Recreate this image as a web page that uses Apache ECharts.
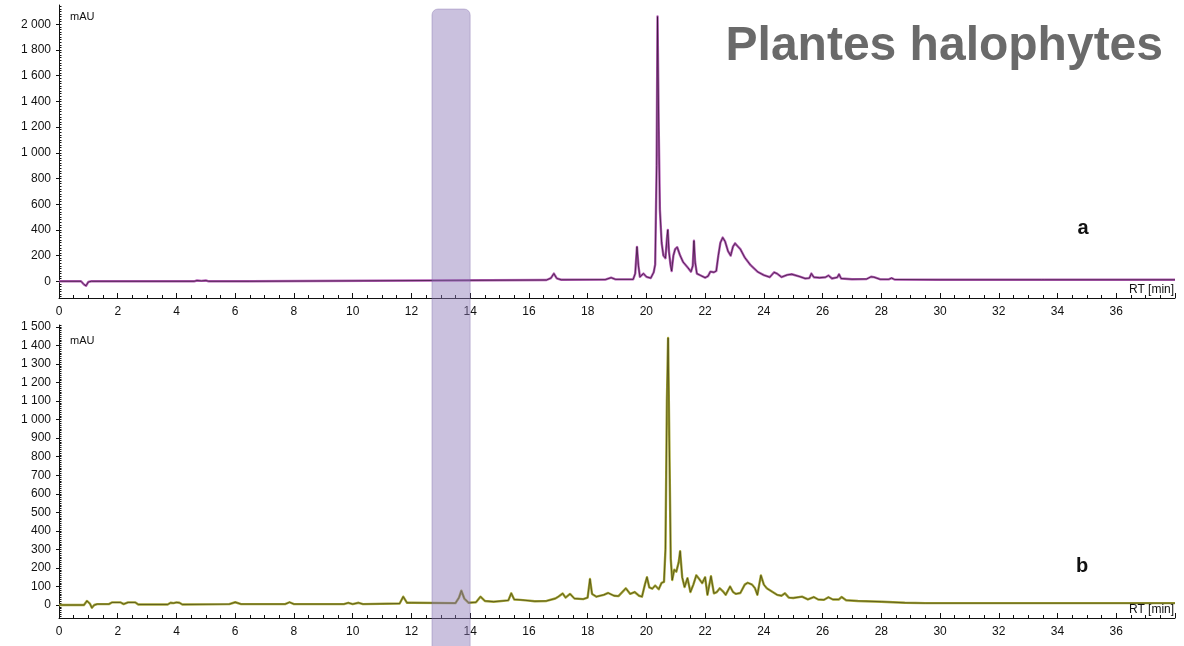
<!DOCTYPE html>
<html>
<head>
<meta charset="utf-8">
<script src="https://cdn.jsdelivr.net/npm/echarts@6/dist/echarts.min.js"></script>
<style>
  html, body { margin: 0; padding: 0; background: #ffffff; }
  #chart { width: 1184px; height: 646px; }
</style>
</head>
<body>
<div id="chart"></div>
<script>
// Chromatogram a: retention time (min) and absorbance (mAU)
const rtA = [0, 0.75, 0.85, 0.92, 1.0, 1.1, 4.6, 4.7, 4.85, 5.0, 5.1, 6.5, 6.55, 16.6, 16.75, 16.85, 16.95, 17.1,
  18.6, 18.8, 18.95, 19.55, 19.62, 19.68, 19.73, 19.78, 19.9, 20.0, 20.15, 20.25, 20.3, 20.35, 20.38, 20.42, 20.46,
  20.52, 20.58, 20.65, 20.7, 20.73, 20.77, 20.82, 20.86, 20.92, 20.98, 21.05, 21.15, 21.25, 21.4, 21.52, 21.58,
  21.62, 21.66, 21.72, 21.85, 22.0, 22.1, 22.18, 22.3, 22.38, 22.45, 22.52, 22.6, 22.68, 22.78, 22.87, 22.95,
  23.02, 23.1, 23.2, 23.35, 23.55, 23.8, 24.0, 24.2, 24.35, 24.45, 24.6, 24.8, 24.95, 25.2, 25.4, 25.55, 25.62,
  25.7, 25.9, 26.1, 26.2, 26.32, 26.5, 26.56, 26.63, 27.0, 27.5, 27.65, 27.75, 27.95, 28.25, 28.35, 28.45, 30,
  33.45, 33.5, 33.55, 38];
const mauA = [0, 0, -25, -35, -5, 0, 0, 6, 3, 6, 0, 0, 10, 10, 25, 60, 22, 12,
  13, 28, 15, 15, 60, 268, 120, 35, 60, 35, 25, 70, 130, 900, 2060, 1200, 560,
  300, 200, 180, 330, 400, 230, 130, 80, 200, 250, 265, 200, 150, 110, 75, 120,
  315, 150, 60, 45, 28, 40, 75, 70, 80, 200, 300, 340, 310, 235, 200, 270,
  295, 275, 250, 185, 125, 72, 48, 32, 70, 60, 33, 50, 55, 38, 22, 25, 60,
  32, 28, 32, 45, 22, 30, 55, 22, 16, 18, 35, 32, 16, 15, 25, 14, 12,
  12, 18, 12, 12];

// Chromatogram b
const rtB = [0, 0.85, 0.95, 1.05, 1.12, 1.2, 1.3, 1.7, 1.8, 2.1, 2.2, 2.35, 2.6, 2.7, 3.7, 3.8, 3.9, 4.0, 4.1, 4.2,
  5.8, 6.0, 6.2, 7.7, 7.85, 8.0, 9.7, 9.85, 10.0, 10.2, 10.35, 11.6, 11.72, 11.85, 12.0, 13.5, 13.62, 13.7, 13.8,
  13.95, 14.2, 14.35, 14.5, 14.8, 15.3, 15.4, 15.5, 15.7, 15.9, 16.2, 16.6, 16.9, 17.0, 17.15, 17.25, 17.4, 17.55,
  17.85, 18.0, 18.08, 18.15, 18.3, 18.55, 18.7, 18.9, 19.05, 19.3, 19.45, 19.6, 19.75, 19.85, 19.95, 20.02, 20.1,
  20.2, 20.3, 20.42, 20.52, 20.6, 20.65, 20.7, 20.74, 20.78, 20.83, 20.88, 20.95, 21.02, 21.1, 21.15, 21.22, 21.3,
  21.4, 21.5, 21.6, 21.7, 21.8, 21.9, 22.0, 22.08, 22.2, 22.3, 22.4, 22.5, 22.6, 22.7, 22.85, 22.95, 23.05, 23.2,
  23.35, 23.45, 23.6, 23.7, 23.78, 23.9, 24.0, 24.1, 24.3, 24.45, 24.6, 24.72, 24.85, 25.0, 25.3, 25.5, 25.7,
  25.85, 26.05, 26.2, 26.35, 26.55, 26.65, 26.8, 27.2, 28.0, 28.8, 29.5, 38];
const mauB = [0, 0, 22, 8, -15, 0, 5, 5, 14, 14, 5, 14, 14, 3, 3, 12, 10, 14, 12, 3,
  5, 15, 5, 5, 15, 5, 5, 12, 5, 12, 5, 8, 45, 12, 12, 10, 40, 77, 35,
  12, 15, 45, 22, 18, 25, 63, 30, 28, 25, 20, 22, 35, 45, 62, 40, 60, 35,
  32, 40, 140, 60, 45, 55, 65, 50, 48, 90, 60, 70, 50, 45, 110, 150, 95,
  88, 105, 85, 120, 125, 300, 1100, 1440, 900, 250, 135, 190, 180, 230, 290, 150, 97,
  145, 70, 110, 160, 140, 118, 150, 55, 155, 63, 70, 90, 75, 55, 100, 70, 60, 65,
  110, 120, 110, 90, 55, 160, 110, 90, 70, 55, 50, 63, 40, 38, 45, 30, 43,
  30, 28, 42, 30, 30, 43, 26, 22, 18, 12, 10, 10];

// Axis ranges and labelled ticks
const rtRange = [0, 38];
const rtStep = 2;
const yRangeA = [-130, 2150];
const yRangeB = [-70, 1510];
const yTicksA = [0, 200, 400, 600, 800, 1000, 1200, 1400, 1600, 1800, 2000];
const yTicksB = [0, 100, 200, 300, 400, 500, 600, 700, 800, 900, 1000, 1100, 1200, 1300, 1400, 1500];
const yMinorStepA = 20;
const yMinorStepB = 10;

// Highlighted retention-time window
const bandRT = [12.7, 14.0];

const titleText = 'Plantes halophytes';
const panelNames = ['a', 'b'];
const yUnit = 'mAU';
const xUnit = 'RT [min]';

const FONT = '"Liberation Sans", Arial, sans-serif';
const INK = '#111111';

function pairs(xs, ys) { return xs.map((x, i) => [x, ys[i]]); }

function minorValues(range, step) {
  const out = [];
  const start = Math.ceil(range[0] / step) * step;
  for (let v = start; v <= range[1]; v += step) out.push(v);
  return out;
}

function fmtThousands(v) {
  if (Math.abs(v) < 1000) return String(v);
  const th = Math.floor(v / 1000);
  const rest = String(v % 1000).padStart(3, '0');
  return th + ' ' + rest;
}

const grids = [
  { left: 59, right: 9, top: 5, height: 293 },
  { left: 59, right: 9, top: 325, height: 293 }
];

function xAxisFor(i) {
  return {
    type: 'value', gridIndex: i, min: rtRange[0], max: rtRange[1], interval: rtStep,
    axisLine: { show: true, onZero: false, lineStyle: { color: INK, width: 1 } },
    axisTick: { show: true, inside: true, length: 5, lineStyle: { color: INK, width: 1 } },
    minorTick: { show: true, splitNumber: 4, length: 3, lineStyle: { color: INK, width: 1 } },
    axisLabel: {
      color: INK, fontSize: 12, fontFamily: FONT, margin: 8,
      formatter: v => (v === rtRange[1] ? '' : String(v))
    },
    splitLine: { show: false }
  };
}

function yAxesFor(i, range, ticks, minorStep) {
  return [
    {
      type: 'value', gridIndex: i, min: range[0], max: range[1], position: 'left',
      axisLine: { show: true, onZero: false, lineStyle: { color: INK, width: 1 } },
      axisTick: { show: true, inside: false, length: 3, customValues: ticks, lineStyle: { color: INK, width: 1 } },
      axisLabel: {
        customValues: ticks, color: INK, fontSize: 12, fontFamily: FONT, margin: 8,
        formatter: v => fmtThousands(v)
      },
      splitLine: { show: false }
    },
    {
      type: 'value', gridIndex: i, min: range[0], max: range[1], position: 'left', offset: 0,
      axisLine: { show: false },
      axisTick: { show: true, inside: true, length: 2.5, customValues: minorValues(range, minorStep),
        lineStyle: { color: INK, width: 1 } },
      axisLabel: { show: false },
      splitLine: { show: false }
    }
  ];
}

function trace(xi, yi, data, color, width, z, opacity) {
  return {
    type: 'line', xAxisIndex: xi, yAxisIndex: yi, data: data,
    showSymbol: false, symbol: 'none', smooth: false, sampling: 'none',
    lineStyle: { color: color, width: width, join: 'round', opacity: opacity }, z: z, silent: true
  };
}

const dataA = pairs(rtA, mauA);
const dataB = pairs(rtB, mauB);

const chart = echarts.init(document.getElementById('chart'), null, { renderer: 'canvas' });

chart.setOption({
  animation: false,
  backgroundColor: '#ffffff',
  grid: grids,
  xAxis: [xAxisFor(0), xAxisFor(1)],
  yAxis: [].concat(
    yAxesFor(0, yRangeA, yTicksA, yMinorStepA),
    yAxesFor(1, yRangeB, yTicksB, yMinorStepB)
  ),
  series: [
    trace(0, 0, dataA, '#b35db5', 2.4, 2, 1),
    trace(0, 0, dataA, '#2a0c2a', 0.8, 3, 0.85),
    trace(1, 2, dataB, '#a6a638', 2.4, 2, 1),
    trace(1, 2, dataB, '#3d3d0c', 0.8, 3, 0.85)
  ]
});

// Shaded retention window spanning both panels, placed through the x scale
const bx0 = chart.convertToPixel({ xAxisIndex: 0 }, bandRT[0]);
const bx1 = chart.convertToPixel({ xAxisIndex: 0 }, bandRT[1]);

chart.setOption({
  graphic: [
    {
      type: 'rect', id: 'band', z: 50, silent: true,
      shape: { x: bx0, y: 9, width: bx1 - bx0, height: 650, r: [6, 6, 0, 0] },
      style: { fill: 'rgba(140,120,182,0.46)', stroke: 'rgba(120,100,165,0.35)', lineWidth: 1 }
    },
    {
      type: 'text', id: 'title', z: 60, silent: true,
      style: { text: titleText, x: 1163, y: 47, align: 'right', verticalAlign: 'middle',
        font: 'bold 48px ' + FONT, fill: '#6a6a6a' }
    },
    {
      type: 'text', id: 'labA', z: 60, silent: true,
      style: { text: panelNames[0], x: 1083, y: 228, align: 'center', verticalAlign: 'middle',
        font: 'bold 20px ' + FONT, fill: INK }
    },
    {
      type: 'text', id: 'labB', z: 60, silent: true,
      style: { text: panelNames[1], x: 1082, y: 566, align: 'center', verticalAlign: 'middle',
        font: 'bold 20px ' + FONT, fill: INK }
    },
    {
      type: 'text', id: 'unitA', z: 60, silent: true,
      style: { text: yUnit, x: 70, y: 17, align: 'left', verticalAlign: 'middle',
        font: '11px ' + FONT, fill: INK }
    },
    {
      type: 'text', id: 'unitB', z: 60, silent: true,
      style: { text: yUnit, x: 70, y: 341, align: 'left', verticalAlign: 'middle',
        font: '11px ' + FONT, fill: INK }
    },
    {
      type: 'text', id: 'rtA', z: 60, silent: true,
      style: { text: xUnit, x: 1129, y: 290, align: 'left', verticalAlign: 'middle',
        font: '12px ' + FONT, fill: INK }
    },
    {
      type: 'text', id: 'rtB', z: 60, silent: true,
      style: { text: xUnit, x: 1129, y: 610, align: 'left', verticalAlign: 'middle',
        font: '12px ' + FONT, fill: INK }
    }
  ]
});
</script>
</body>
</html>
